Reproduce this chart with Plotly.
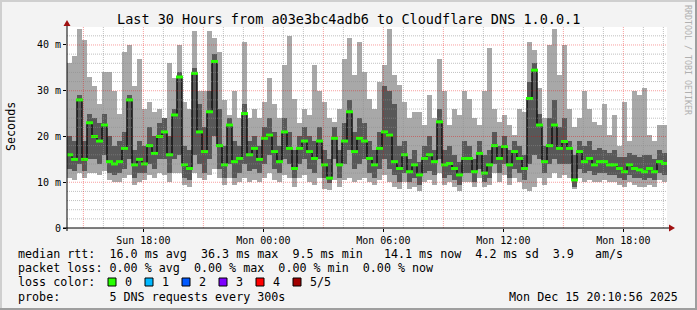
import plotly.graph_objects as go
import pandas as pd

# ---------------- data (ms), one value per 15-minute step ----------------
ping_median = [
    16, 15, 28, 15, 23, 20, 19, 22.5, 14.5, 14, 14.5, 17.4, 28, 13.8, 15, 14, 18, 16.3, 20, 21,
    16, 24.7, 33, 13.8, 13, 33.8, 21, 16.7, 25.4, 36.4, 18, 13.8, 22.5, 14.5, 15.2, 25, 16, 17.4, 15, 19.6,
    20.3, 16.7, 14.5, 21, 17.4, 13, 17.4, 19, 16.7, 15.2, 19, 13.8, 10.9, 19.6, 13.8, 19, 25.4, 16.7, 19.6, 19,
    15.2, 13.8, 17.4, 21, 20.3, 14.5, 13, 16, 12.3, 13.8, 11.6, 15.2, 16, 14.5, 23.2, 13.8, 14.1, 13, 11.6, 15.2,
    15.2, 12.3, 16.3, 12, 13.8, 18, 15.2, 17.8, 13.8, 16.7, 15.2, 13, 28.3, 34.5, 22.5, 14.5, 18, 22.5, 17.4, 18.9,
    17.4, 10.5, 16.7, 14.5, 15.2, 13.8, 14.5, 14.5, 13.8, 13.8, 13, 12.3, 13.8, 13, 12.7, 12.3, 13, 12.3, 14.5, 14.1,
]
ping_max = [
    36, 37.5, 43.6, 41, 33, 31, 27, 34, 34, 30, 25, 38.5, 40, 31, 37, 26, 27.6, 25.4, 26, 24,
    36, 32.7, 40, 27.6, 26, 43, 30, 30, 43, 41.5, 38.5, 28, 24.7, 30, 24, 40.7, 24, 26, 24, 27.6,
    32.7, 27, 24, 35.6, 42, 28.3, 23, 26, 24.7, 35.6, 30, 27.6, 24, 23.2, 26, 37, 41.5, 33.4, 40.7, 34,
    28.3, 26, 32, 35.6, 43.6, 33.4, 31.3, 27.6, 24, 25.4, 25.4, 22.5, 29, 24, 37, 30, 22.5, 26, 24.7, 30,
    28.3, 24, 22.5, 30, 39.3, 26, 23.2, 24.7, 22.5, 20.3, 26, 25.4, 40.7, 39, 30.5, 24, 40, 43.6, 33.4, 40,
    26, 22, 24, 30, 26, 23.2, 22.5, 27, 20.3, 24.7, 18, 27.6, 19, 30, 29, 30.5, 20.3, 19, 22.5, 22.5,
]
ping_q3 = [
    20, 19, 29, 19, 25, 24, 23, 25, 20, 18, 19, 21, 29, 17, 19, 18, 22, 20, 23, 24,
    20, 26, 34, 18, 17, 35, 27, 22, 30, 38, 26, 18, 24, 19, 18, 27, 19, 20, 18, 22,
    24, 21, 18, 24, 21, 17, 20, 22, 20, 19, 22, 17, 15, 22, 17, 23, 28, 21, 24, 23,
    19, 17, 21, 31, 30, 27, 18, 19, 15, 17, 14.5, 18, 20, 17, 26, 17, 18, 16, 14.5, 19,
    18, 15, 19, 16, 17, 21, 18, 20, 17, 19, 18, 16, 32, 36, 25, 18, 24, 28, 22, 24,
    19, 16, 19, 18, 19, 17, 17.5, 17, 16.5, 17, 15.5, 15.5, 16.5, 16, 15.5, 16, 16, 15, 17, 16.5,
]
ping_q1 = [
    13, 12.5, 14, 12.5, 15, 15, 14, 16, 12, 11.5, 12, 13, 15, 11, 12, 12, 14, 13, 15, 15,
    12, 15, 16, 11, 10.5, 16, 14, 12, 15, 20, 13, 11, 14, 11, 12, 14, 12.5, 13, 12, 14,
    16, 13, 12, 15, 14, 11, 14, 15, 13, 12, 15, 11, 9.8, 15, 11, 14, 17, 13, 14, 15,
    12, 11, 13, 15, 13, 11.5, 10, 12, 10, 11, 9.5, 12, 12.5, 11.5, 15, 11, 11.5, 10.5, 9.5, 12,
    12, 10, 13, 10, 11, 14, 12, 14, 11, 13, 12, 10.5, 14, 16, 15, 12, 14, 15, 14, 14,
    14, 9, 13, 12, 12.5, 11.5, 12, 12, 11.5, 11.5, 11, 10.5, 11.5, 11, 11, 10.5, 11, 10.5, 12, 11.5,
]
ping_min = [
    11, 10.5, 12, 11, 12, 12, 11.5, 12.5, 10.5, 10, 10, 11, 11.5, 9.5, 10, 10.5, 11.5, 11, 12, 11.5,
    10, 12, 12, 9.5, 9, 12, 11, 10.5, 11.5, 13, 11, 9.5, 11, 9.5, 10, 11, 10, 10.5, 10, 11,
    12, 10.5, 10, 11.5, 11, 9, 11, 11.5, 10, 9.5, 11, 8.5, 8.3, 10.5, 9, 10.5, 11, 10, 10.5, 11,
    10, 9.5, 10.5, 11.5, 10, 9, 8.5, 10, 8.5, 9, 8, 10, 10.5, 9.5, 12, 9.5, 10, 9, 8, 10,
    10, 9, 11, 9, 9.5, 12, 10, 11.5, 9.5, 11, 10, 8.5, 8, 9, 11, 9.5, 11, 12, 11, 11.5,
    11, 8.5, 11, 10, 10.5, 10, 10, 10.5, 10, 10, 9.5, 9, 10, 9.5, 9, 9, 9.5, 9, 10.5, 10,
]

times = pd.date_range("2025-12-14 14:18:26", periods=len(ping_median), freq="15min")
x_range = ["2025-12-14 14:10:56", "2025-12-15 20:10:56"]
y_max = 43.93

y_tick_vals = [0, 10, 20, 30, 40]
y_tick_text = ["0", "10 m", "20 m", "30 m", "40 m"]
x_tick_vals = ["2025-12-14 18:00", "2025-12-15 00:00", "2025-12-15 06:00",
               "2025-12-15 12:00", "2025-12-15 18:00"]
x_tick_text = ["Sun 18:00", "Mon 00:00", "Mon 06:00", "Mon 12:00", "Mon 18:00"]

loss_labels = ["0", "1", "2", "3", "4", "5/5"]
loss_colors = ["#26ff00", "#00b8ff", "#0059ff", "#7e00ff", "#ff0000", "#a10000"]

legend_lines = [
    "median rtt:  16.0 ms avg  36.3 ms max  9.5 ms min   14.1 ms now  4.2 ms sd  3.9   am/s",
    "packet loss: 0.00 % avg  0.00 % max  0.00 % min  0.00 % now",
    "loss color:",
    "probe:       5 DNS requests every 300s",
]
title_text = "Last 30 Hours from a03e3bc4adb6 to Cloudflare DNS 1.0.0.1"
stamp_text = "Mon Dec 15 20:10:56 2025"

# ---------------- layout geometry ----------------
W, H = 697, 310
ML, MR, MT, MB = 67, 30, 27, 82
PW = W - ML - MR
PH = H - MT - MB


def px(x):
    return (x - ML) / PW


def py(y):
    return (MT + PH - y) / PH


MONO = "DejaVu Sans Mono"
STEP_MS = 15 * 60 * 1000

fig = go.Figure()
fig.add_trace(go.Bar(
    x=times, base=ping_min, y=[a - b for a, b in zip(ping_max, ping_min)],
    width=STEP_MS, marker=dict(color="#a8a8a8", line=dict(width=0)),
    hoverinfo="skip", showlegend=False))
fig.add_trace(go.Bar(
    x=times, base=ping_q1, y=[a - b for a, b in zip(ping_q3, ping_q1)],
    width=STEP_MS, marker=dict(color="#585858", line=dict(width=0)),
    hoverinfo="skip", showlegend=False))
fig.add_trace(go.Scatter(
    x=times, y=ping_median, mode="lines",
    line=dict(color="#101010", width=1.5, shape="hvh"),
    hoverinfo="skip", showlegend=False))
fig.add_trace(go.Scatter(
    x=times, y=ping_median, mode="markers",
    marker=dict(symbol="line-ew", size=5, color=loss_colors[0],
                line=dict(color=loss_colors[0], width=3)),
    hoverinfo="skip", showlegend=False))

shapes = []
# border (3D)
shapes.append(dict(type="rect", xref="paper", yref="paper", x0=px(0), x1=px(W), y0=py(0), y1=py(2),
                   fillcolor="#cfcfcf", line=dict(width=0), layer="above"))
shapes.append(dict(type="rect", xref="paper", yref="paper", x0=px(0), x1=px(2), y0=py(0), y1=py(H),
                   fillcolor="#cfcfcf", line=dict(width=0), layer="above"))
shapes.append(dict(type="rect", xref="paper", yref="paper", x0=px(0), x1=px(W), y0=py(H - 2), y1=py(H),
                   fillcolor="#9e9e9e", line=dict(width=0), layer="above"))
shapes.append(dict(type="rect", xref="paper", yref="paper", x0=px(W - 2), x1=px(W), y0=py(0), y1=py(H),
                   fillcolor="#9e9e9e", line=dict(width=0), layer="above"))

# grid (drawn above data, like rrdtool)
minor_col = "rgba(140,140,140,0.55)"
major_col = "rgba(235,0,0,0.38)"
for v in range(2, 44, 2):
    col = major_col if v % 10 == 0 else minor_col
    shapes.append(dict(type="line", xref="paper", yref="y", x0=0, x1=1, y0=v, y1=v,
                       line=dict(color=col, width=1, dash="1px,1px"), layer="above"))
for t in pd.date_range("2025-12-14 15:00", "2025-12-15 20:00", freq="1h"):
    col = major_col if t.hour % 3 == 0 else minor_col
    shapes.append(dict(type="line", xref="x", yref="paper", x0=t, x1=t, y0=0, y1=1,
                       line=dict(color=col, width=1, dash="1px,1px"), layer="above"))

# axes with arrows
shapes.append(dict(type="line", xref="paper", yref="paper", x0=px(63), x1=px(671), y0=0, y1=0,
                   line=dict(color="#000000", width=1), layer="above"))
shapes.append(dict(type="line", xref="paper", yref="paper", x0=0, x1=0, y0=py(231), y1=py(23),
                   line=dict(color="#000000", width=1), layer="above"))
shapes.append(dict(type="path", xref="paper", yref="paper",
                   path=f"M {px(675)} {py(228)} L {px(669)} {py(224.5)} L {px(669)} {py(231.5)} Z",
                   fillcolor="#a01010", line=dict(width=0), layer="above"))
shapes.append(dict(type="path", xref="paper", yref="paper",
                   path=f"M {px(67)} {py(20)} L {px(63.5)} {py(26)} L {px(70.5)} {py(26)} Z",
                   fillcolor="#a01010", line=dict(width=0), layer="above"))

annotations = []
annotations.append(dict(text=title_text, xref="paper", yref="paper", x=px(348.5), y=py(19),
                        xanchor="center", yanchor="middle", showarrow=False,
                        font=dict(family=MONO, size=13.5, color="#000000")))
annotations.append(dict(text="Seconds", xref="paper", yref="paper", x=px(11), y=py(127),
                        xanchor="center", yanchor="middle", showarrow=False, textangle=-90,
                        font=dict(family=MONO, size=11.7, color="#000000")))
annotations.append(dict(text="RRDTOOL / TOBI OETIKER", xref="paper", yref="paper", x=px(688), y=py(60),
                        xanchor="center", yanchor="middle", showarrow=False, textangle=90,
                        font=dict(family=MONO, size=8.3, color="#b0b0b0")))
line_y = [253.5, 268, 282, 296.5]
for txt, yy in zip(legend_lines, line_y):
    annotations.append(dict(text=txt.replace(" ", "\u00a0"), xref="paper", yref="paper",
                            x=px(16), y=py(yy), xanchor="left", yanchor="middle", showarrow=False,
                            font=dict(family=MONO, size=11.7, color="#000000")))
annotations.append(dict(text=stamp_text.replace(" ", "\u00a0"), xref="paper", yref="paper",
                        x=px(680), y=py(line_y[3]), xanchor="right", yanchor="middle", showarrow=False,
                        font=dict(family=MONO, size=11.7, color="#000000")))
for i, (lab, col) in enumerate(zip(loss_labels, loss_colors)):
    bx = 108 + 37 * i
    shapes.append(dict(type="rect", xref="paper", yref="paper", x0=px(bx), x1=px(bx + 8),
                       y0=py(286), y1=py(278), fillcolor=col,
                       line=dict(color="#000000", width=1), layer="above"))
    annotations.append(dict(text=lab, xref="paper", yref="paper", x=px(bx + 15), y=py(line_y[2]),
                            xanchor="left", yanchor="middle", showarrow=False,
                            font=dict(family=MONO, size=11.7, color="#000000")))

fig.update_layout(
    width=W, height=H, autosize=False,
    margin=dict(l=ML, r=MR, t=MT, b=MB, pad=0),
    paper_bgcolor="#f3f3f3", plot_bgcolor="#ffffff",
    barmode="overlay", bargap=0,
    showlegend=False,
    shapes=shapes, annotations=annotations,
    xaxis=dict(type="date", range=x_range, showgrid=False, zeroline=False, showline=False,
               tickmode="array", tickvals=x_tick_vals, ticktext=x_tick_text,
               ticks="outside", ticklen=3, tickcolor="#000000",
               tickfont=dict(family=MONO, size=10, color="#000000"), fixedrange=True),
    yaxis=dict(range=[0, y_max], showgrid=False, zeroline=False, showline=False,
               tickmode="array", tickvals=y_tick_vals, ticktext=y_tick_text,
               ticks="outside", ticklen=3, tickcolor="#000000",
               tickfont=dict(family=MONO, size=10, color="#000000"), fixedrange=True),
)

fig.write_html("out.html")
